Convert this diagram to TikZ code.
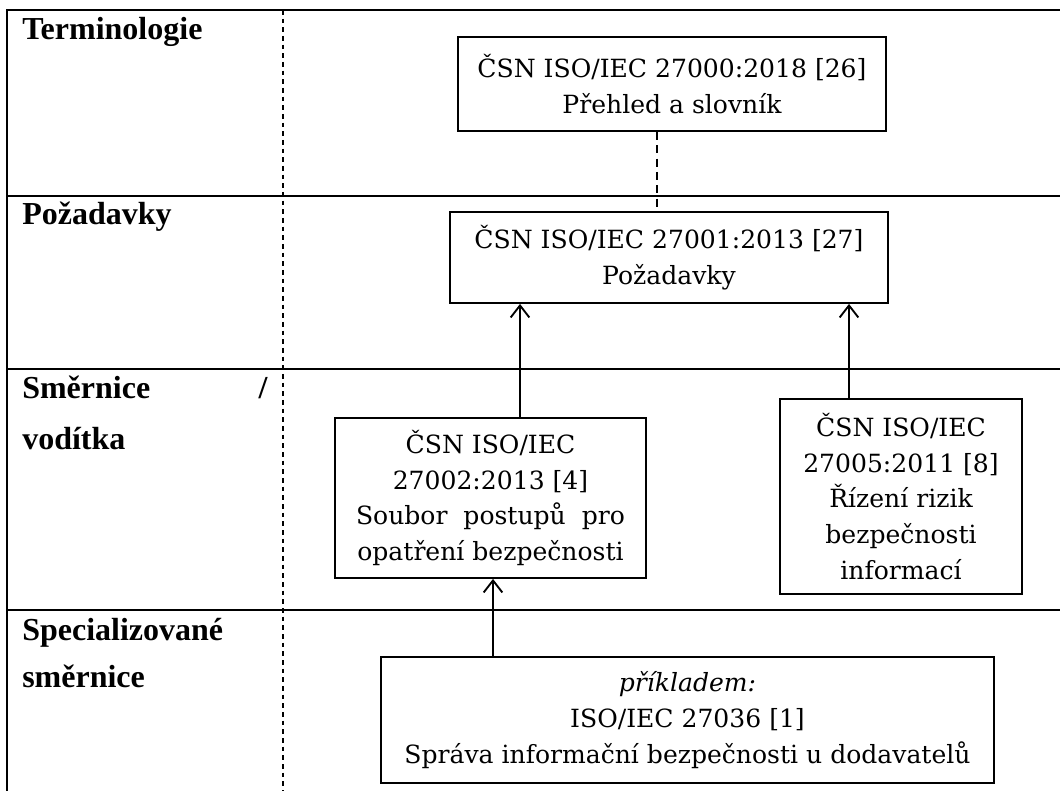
\documentclass[tikz,border=0pt]{standalone}
\usepackage{fontspec}
\setmainfont{DejaVu Serif}
\newfontfamily\labelfont{Liberation Serif}
\usetikzlibrary{arrows.meta}

\begin{document}
\begin{tikzpicture}[x=0.75pt,y=-0.75pt,
    doc/.style={draw,line width=1.4pt,align=center,inner sep=0pt,
        font=\fontsize{18.8}{26.8}\selectfont},
    lbl/.style={anchor=base west,inner sep=0pt,
        font=\labelfont\fontsize{24}{28}\selectfont\bfseries},
    tabline/.style={line width=2pt},
    arr/.style={line width=1.4pt,-{Straight Barb[length=9pt,width=14pt]}}]
    \useasboundingbox (0,0) rectangle (1060,791);

    % Table rules
    \draw[tabline] (1060,10) -- (7,10) -- (7,791);
    \foreach \y in {196,369,610} {
        \draw[tabline] (7,\y) -- (1060,\y);
    }
    \draw[line width=0.8pt,dash pattern=on 3.5pt off 3pt] (283,10) -- (283,791);

    % Row labels
    \node[lbl] (terms) at (22,40) {Terminologie};
    \node[lbl] (reqs) at (22,225) {Požadavky};
    \node[lbl] (guide) at (22,398) {\makebox[184pt][l]{Směrnice\hfill/}};
    \node[lbl] (guide2) at (22,450) {vodítka};
    \node[lbl] (spec) at (22,640) {Specializované};
    \node[lbl] (spec2) at (22,687) {směrnice};

    % Standards
    \node[doc,minimum width=321pt,minimum height=70.5pt] (iso27000) at (672,84)
        {ČSN ISO/IEC 27000:2018 [26]\\Přehled a slovník};
    \node[doc,minimum width=328.5pt,minimum height=68.25pt] (iso27001) at (669,257.5)
        {ČSN ISO/IEC 27001:2013 [27]\\Požadavky};
    \node[doc,minimum width=233.25pt,minimum height=120pt] (iso27002) at (490.5,498)
        {ČSN ISO/IEC\\27002:2013 [4]\\Soubor~ postupů~ pro\\opatření bezpečnosti};
    \node[doc,minimum width=181.5pt,minimum height=146.25pt] (iso27005) at (901,496.5)
        {ČSN ISO/IEC\\27005:2011 [8]\\Řízení rizik\\bezpečnosti\\informací};
    \node[doc,minimum width=459.75pt,minimum height=94.5pt] (iso27036) at (687.5,720)
        {\textit{příkladem:}\\ISO/IEC 27036 [1]\\Správa informační bezpečnosti u dodavatelů};

    % Connectors
    \coordinate (c0) at (657,0);
    \coordinate (c1) at (520,0);
    \coordinate (c2) at (849,0);
    \coordinate (c3) at (493,0);
    \draw[line width=1.4pt,dash pattern=on 6pt off 4pt] (iso27000.south -| c0) -- (iso27001.north -| c0);
    \draw[arr] (iso27002.north -| c1) -- (iso27001.south -| c1);
    \draw[arr] (iso27005.north -| c2) -- (iso27001.south -| c2);
    \draw[arr] (iso27036.north -| c3) -- (iso27002.south -| c3);
\end{tikzpicture}
\end{document}
